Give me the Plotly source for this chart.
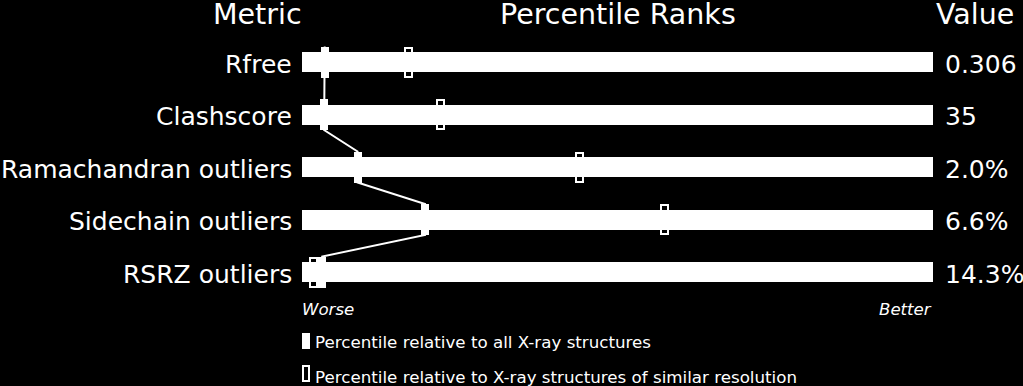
import plotly.graph_objects as go

# ---- data ----
metrics = ["Rfree", "Clashscore", "Ramachandran outliers", "Sidechain outliers", "RSRZ outliers"]
values = ["0.306", "35", "2.0%", "6.6%", "14.3%"]
pct_all = [3.6, 3.5, 8.8, 19.5, 3.2]        # percentile relative to all X-ray structures
pct_similar = [16.9, 22.0, 44.0, 57.4, 1.8]  # percentile relative to similar resolution
headers = ["Metric", "Percentile Ranks", "Value"]
scale_labels = ["Worse", "Better"]
legend_labels = ["Percentile relative to all X-ray structures",
                 "Percentile relative to X-ray structures of similar resolution"]

# ---- geometry helpers (pixel layout of the figure) ----
W, H = 1023, 386
X0, PXU = 302.0, 6.31   # pixel of 0 percentile, pixels per percentile
Y0, ROW = 62.0, 52.5    # pixel of first row centre, pixels per row


def px2x(px):
    return (px - X0) / PXU


def py2y(py):
    return (py - Y0) / ROW


rows = list(range(len(metrics)))
FONT = "DejaVu Sans"
WHITE = "#ffffff"
MH = 31 / ROW  # marker height in row units

fig = go.Figure()

# main white bars
fig.add_trace(go.Bar(
    y=rows, x=[100] * len(rows), base=[0] * len(rows), orientation="h",
    width=20 / ROW, marker=dict(color=WHITE, line=dict(width=0)),
    hoverinfo="skip", showlegend=False))

# connecting line: from the bottom of each filled marker to the top of the next
lx, ly = [], []
for r, p in zip(rows, pct_all):
    lx += [p, p]
    ly += [r - MH / 2, r + MH / 2]
fig.add_trace(go.Scatter(
    x=lx, y=ly, mode="lines", line=dict(color=WHITE, width=2),
    hoverinfo="skip", showlegend=False))

# filled markers
fw = 8 / PXU
fig.add_trace(go.Bar(
    y=rows, x=[fw] * len(rows), base=[p - fw / 2 for p in pct_all], orientation="h",
    width=MH, marker=dict(color=WHITE, line=dict(width=0)),
    hoverinfo="skip", showlegend=False))

# open markers
ow = 7 / PXU
fig.add_trace(go.Bar(
    y=rows, x=[ow] * len(rows), base=[p - ow / 2 for p in pct_similar], orientation="h",
    width=29 / ROW, marker=dict(color="rgba(0,0,0,0)", line=dict(color=WHITE, width=2)),
    hoverinfo="skip", showlegend=False))

ann = []
# headers
ann.append(dict(x=px2x(304), y=py2y(14), text=headers[0], xanchor="right", yanchor="middle",
                font=dict(size=28.5, color=WHITE, family=FONT), showarrow=False))
ann.append(dict(x=50, y=py2y(14), text=headers[1], xanchor="center", yanchor="middle",
                font=dict(size=28.5, color=WHITE, family=FONT), showarrow=False))
ann.append(dict(x=px2x(934), y=py2y(14), text=headers[2], xanchor="left", yanchor="middle",
                font=dict(size=28.5, color=WHITE, family=FONT), showarrow=False))
# row labels and values
for r, m, v in zip(rows, metrics, values):
    ann.append(dict(x=px2x(294), y=r + py2y(64) - py2y(62), text=m, xanchor="right", yanchor="middle",
                    font=dict(size=25, color=WHITE, family=FONT), showarrow=False))
    ann.append(dict(x=px2x(943), y=r + py2y(64) - py2y(62), text=v, xanchor="left", yanchor="middle",
                    font=dict(size=25, color=WHITE, family=FONT), showarrow=False))
# worse / better
ann.append(dict(x=px2x(300), y=py2y(309), text=scale_labels[0], xanchor="left", yanchor="middle",
                font=dict(size=16.6, color=WHITE, family=FONT, style="italic"), showarrow=False))
ann.append(dict(x=px2x(934), y=py2y(309), text=scale_labels[1], xanchor="right", yanchor="middle",
                font=dict(size=16.6, color=WHITE, family=FONT, style="italic"), showarrow=False))
# legend texts
for ty, lab in zip([342, 377], legend_labels):
    ann.append(dict(x=px2x(313), y=py2y(ty), text=lab, xanchor="left", yanchor="middle",
                    font=dict(size=16.7, color=WHITE, family=FONT), showarrow=False))

shapes = [
    dict(type="rect", xref="x", yref="y", x0=px2x(302), x1=px2x(310), y0=py2y(333), y1=py2y(349),
         fillcolor=WHITE, line=dict(width=0)),
    dict(type="rect", xref="x", yref="y", x0=px2x(303), x1=px2x(309), y0=py2y(366), y1=py2y(381),
         fillcolor="rgba(0,0,0,0)", line=dict(color=WHITE, width=2)),
]

fig.update_layout(
    width=W, height=H, margin=dict(l=0, r=0, t=0, b=0, pad=0),
    paper_bgcolor="black", plot_bgcolor="black",
    barmode="overlay", bargap=0,
    xaxis=dict(range=[px2x(0), px2x(W)], visible=False, showgrid=False, zeroline=False, fixedrange=True),
    yaxis=dict(range=[py2y(H), py2y(0)], visible=False, showgrid=False, zeroline=False, fixedrange=True),
    annotations=ann, shapes=shapes, showlegend=False,
)

fig.write_html(
    "out.html",
    config={"displayModeBar": False},
    post_script="document.body.style.margin='0';document.body.style.overflow='hidden';document.body.style.background='black';",
)
